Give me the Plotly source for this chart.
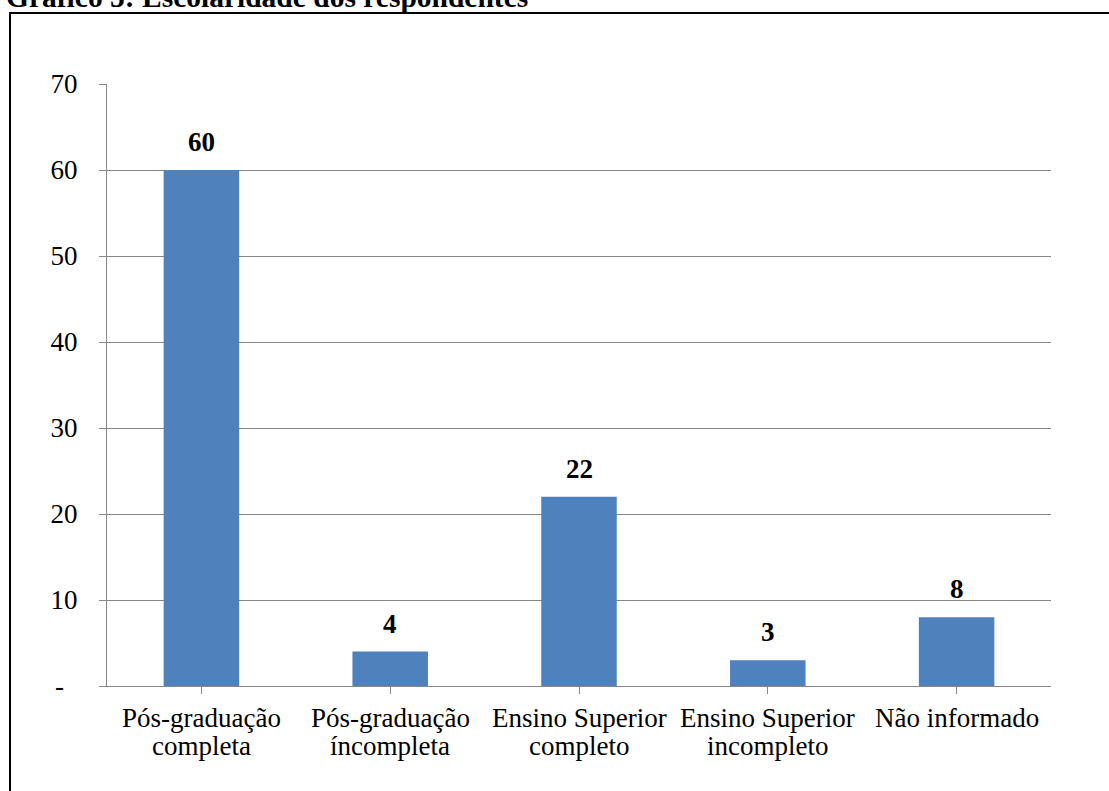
import plotly.graph_objects as go

# Escolaridade dos respondentes
categorias = [
    "Pós-graduação\ncompleta",
    "Pós-graduação\níncompleta",
    "Ensino Superior\ncompleto",
    "Ensino Superior\nincompleto",
    "Não informado",
]
respondentes = [60, 4, 22, 3, 8]
y_ticks = [0, 10, 20, 30, 40, 50, 60, 70]
y_ticktext = ["-\u00a0\u00a0", "10", "20", "30", "40", "50", "60", "70"]
titulo = "Gráfico 5: Escolaridade dos respondentes"

W, H = 1109, 791
ML, MR, MT, MB = 107, 58, 84, 105
PW, PH = W - ML - MR, H - MT - MB

FONT = "Liberation Serif, Times New Roman, serif"
GRID = "#878787"
BAR = "#4F81BD"
FS = 27


def px_x(px):
    return (px - ML) / PW


def px_y(py):
    return (H - MB - py) / PH


fig = go.Figure(
    go.Bar(
        x=list(range(len(categorias))),
        y=respondentes,
        marker=dict(color=BAR, line=dict(width=0)),
        width=0.4,
        hoverinfo="skip",
    )
)

annotations = []
# value labels above each bar
for i, v in enumerate(respondentes):
    annotations.append(dict(
        x=i, y=v, xref="x", yref="y", text=f"<b>{v}</b>", showarrow=False,
        yanchor="bottom", yshift=11,
        font=dict(family=FONT, size=FS, color="black"),
    ))
# category labels, one text line at a time for tighter line spacing
for i, cat in enumerate(categorias):
    for j, line in enumerate(cat.split("\n")):
        annotations.append(dict(
            x=i, y=0, xref="x", yref="paper", text=line, showarrow=False,
            yanchor="middle", yshift=-32 - 28 * j,
            font=dict(family=FONT, size=FS, color="black"),
        ))
# chart title
annotations.append(dict(
    x=px_x(4), y=px_y(12), xref="paper", yref="paper", text=f"<b>{titulo}</b>",
    showarrow=False, xanchor="left", yanchor="bottom", yshift=-3,
    font=dict(family=FONT, size=29.5, color="black"),
))

fig.update_layout(
    width=W, height=H,
    margin=dict(l=ML, r=MR, t=MT, b=MB, pad=0),
    paper_bgcolor="white", plot_bgcolor="white",
    showlegend=False,
    annotations=annotations,
    shapes=[dict(
        type="rect", xref="paper", yref="paper",
        x0=px_x(10), x1=px_x(W + 20), y0=px_y(13), y1=px_y(H + 20),
        line=dict(color="black", width=2), fillcolor="rgba(0,0,0,0)", layer="above",
    )],
    xaxis=dict(
        range=[-0.5, len(categorias) - 0.5],
        tickvals=list(range(len(categorias))),
        showticklabels=False,
        tickson="boundaries", ticks="outside", ticklen=7, tickcolor=GRID, tickwidth=1,
        showline=True, linecolor=GRID, linewidth=1,
        showgrid=False, zeroline=False, fixedrange=True,
    ),
    yaxis=dict(
        range=[0, 70],
        tickvals=y_ticks, ticktext=y_ticktext,
        ticks="outside", ticklen=7, tickcolor=GRID, tickwidth=1,
        ticklabelstandoff=16,
        tickfont=dict(family=FONT, size=FS, color="black"),
        showline=True, linecolor=GRID, linewidth=1,
        showgrid=True, gridcolor=GRID, gridwidth=1,
        zeroline=False, fixedrange=True,
    ),
)

fig.write_html("out.html", config={"displayModeBar": False})
